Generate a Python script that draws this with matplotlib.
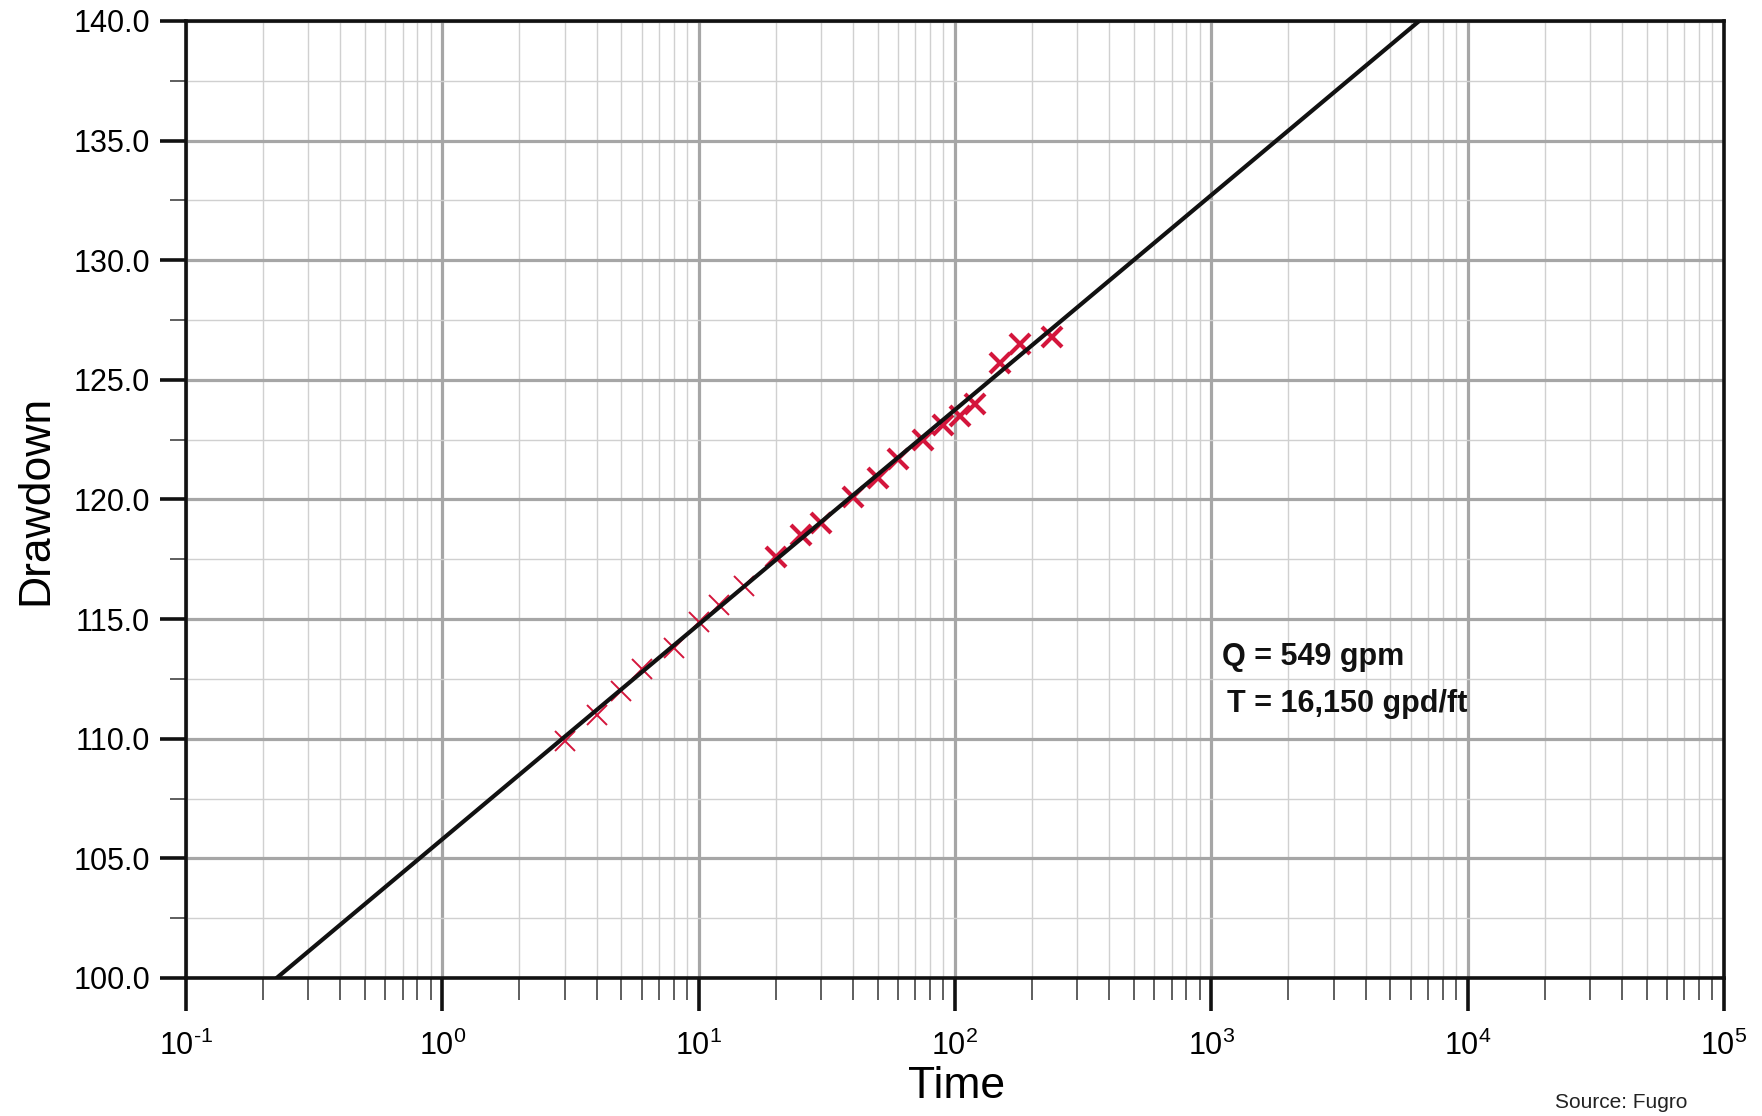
import numpy as np
import matplotlib
matplotlib.use("Agg")
import matplotlib.pyplot as plt
from matplotlib.ticker import FixedLocator, FixedFormatter, MultipleLocator

plt.rcParams['font.family'] = ['Liberation Sans', 'DejaVu Sans']
plt.rcParams['mathtext.fontset'] = 'custom'
plt.rcParams['mathtext.rm'] = 'Liberation Sans'
plt.rcParams['mathtext.default'] = 'regular'

# pumping test readings: time (min) vs drawdown (ft)
early_time = [3, 4, 5, 6, 8, 10, 12, 15]
early_drawdown = [109.9, 111.0, 112.0, 112.9, 113.8, 114.9, 115.6, 116.4]
late_time = [20, 25, 30, 40, 50, 60, 75, 90, 105, 120, 150, 180, 240]
late_drawdown = [117.6, 118.5, 119.0, 120.1, 120.9, 121.7, 122.5, 123.1,
                 123.5, 124.0, 125.7, 126.5, 126.8]

# straight-line fit (Cooper-Jacob): drawdown per log cycle and value at t = 1
Q_GPM = 549
T_GPD_FT = 16150
delta_s = 264 * Q_GPM / T_GPD_FT
s_at_one = 105.8
fit_time = [0.1, 1e5]

x_decades = [0.1, 1, 10, 100, 1000, 10000, 100000]
x_labels = ['10$^{\u2010 1}$', '10$^{0}$', '10$^{1}$', '10$^{2}$',
            '10$^{3}$', '10$^{4}$', '10$^{5}$']
y_ticks = [100, 105, 110, 115, 120, 125, 130, 135, 140]

fig = plt.figure(figsize=(17.62, 11.16), dpi=100)
ax = fig.add_axes([0.10556, 0.12366, 0.87287, 0.85753])

ax.set_xscale('log')
ax.set_xlim(0.1, 1e5)
ax.set_ylim(100, 140)

minor_x = [m * d for d in x_decades[:-1] for m in range(2, 10)]
ax.xaxis.set_major_locator(FixedLocator(x_decades))
ax.xaxis.set_major_formatter(FixedFormatter(x_labels))
ax.xaxis.set_minor_locator(FixedLocator(minor_x))
ax.xaxis.set_minor_formatter(FixedFormatter([''] * len(minor_x)))
ax.yaxis.set_major_locator(FixedLocator(y_ticks))
ax.yaxis.set_minor_locator(MultipleLocator(2.5))
ax.yaxis.set_major_formatter(plt.FuncFormatter(lambda v, p: f"{v:.1f}"))

ax.grid(which='major', color='#a6a6a6', lw=2.3, zorder=0)
ax.grid(which='minor', color='#d0d0d0', lw=1.0, zorder=0)
ax.set_axisbelow(True)

for sp in ax.spines.values():
    sp.set_linewidth(2.6)
    sp.set_color('#111111')

ax.tick_params(axis='y', which='major', length=19, width=2.6, pad=7,
               labelsize=22, color='#111111')
ax.tick_params(axis='y', which='minor', length=11.5, width=1.1,
               color='#333333')
ax.tick_params(axis='x', which='major', length=24, width=2.6, pad=14,
               labelsize=22, color='#111111')
ax.tick_params(axis='x', which='minor', length=16, width=1.1,
               color='#333333')

ax.plot(early_time, early_drawdown, 'x', color='#d4163c', ms=14, mew=1.4,
        zorder=3)
ax.plot(late_time, late_drawdown, 'x', color='#d4163c', ms=14, mew=3.0,
        zorder=3)

fit = s_at_one + delta_s * np.log10(fit_time)
ax.plot(fit_time, fit, color='#111111', lw=3.0, zorder=4)

ax.text(1100, 113.1, f"Q = {Q_GPM} gpm", fontsize=22, fontweight='bold',
        va='baseline', ha='left', color='#111111', zorder=5)
ax.text(1150, 111.1, f"T = {T_GPD_FT:,} gpd/ft", fontsize=22,
        fontweight='bold', va='baseline', ha='left', color='#111111', zorder=5)

ax.set_xlabel('Time', fontsize=32)
ax.set_ylabel('Drawdown', fontsize=32)
ax.xaxis.set_label_coords(0.501, -0.092)
ax.yaxis.set_label_coords(-0.084, 0.5)

fig.text(1555 / 1762, 1 - 1093 / 1116, 'Source: Fugro', fontsize=15,
         ha='left', va='top', color='#222222')

fig.savefig('out.png', dpi=100, facecolor='white')
